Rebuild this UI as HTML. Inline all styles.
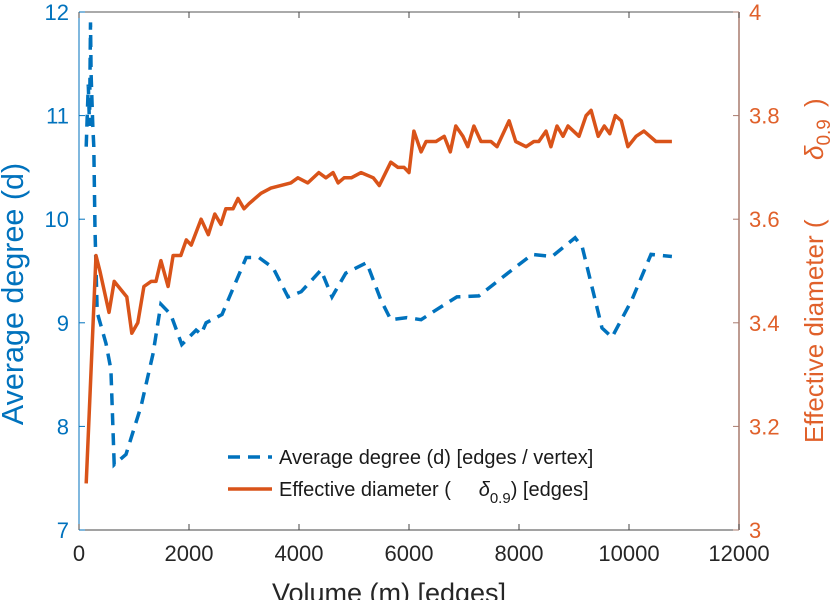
<!DOCTYPE html>
<html><head><meta charset="utf-8"><style>
html,body{margin:0;padding:0;background:#fff;}
svg{display:block;font-family:"Liberation Sans",sans-serif;}
</style></head><body>
<svg id="chart" width="838" height="600" xmlns="http://www.w3.org/2000/svg">
<g id="grid"></g>
<g id="marks"></g>
<g id="axes"></g>
</svg>
<script>
const xTicks = [0, 2000, 4000, 6000, 8000, 10000, 12000];
const leftTicks = [7, 8, 9, 10, 11, 12];
const rightTicks = [3, 3.2, 3.4, 3.6, 3.8, 4];
const rightTickLabels = ["3", "3.2", "3.4", "3.6", "3.8", "4"];
const degX = [130,170,190,210,220,250,270,290,330,490,580,640,855,1130,1345,1490,1670,1870,2130,2220,2310,2600,3040,3270,3530,3800,4040,4400,4600,4850,5230,5490,5670,5960,6220,6510,6870,7270,7870,8240,8600,9020,9150,9510,9690,10050,10400,10780];
const degY = [10.7,11.3,10.9,11.9,11.4,10.9,10.7,9.9,9.1,8.8,8.55,7.63,7.73,8.2,8.7,9.18,9.08,8.79,8.93,8.89,9.0,9.08,9.63,9.63,9.53,9.25,9.3,9.51,9.25,9.48,9.58,9.22,9.03,9.05,9.03,9.13,9.25,9.26,9.51,9.66,9.64,9.82,9.73,8.95,8.86,9.22,9.66,9.64];
const diaX = [130,310,380,545,640,870,960,1070,1180,1310,1400,1490,1620,1710,1850,1950,2040,2220,2350,2470,2580,2670,2800,2890,3000,3090,3310,3490,3850,3980,4160,4360,4490,4620,4710,4820,4950,5130,5350,5460,5670,5800,5910,6000,6090,6220,6310,6490,6640,6750,6850,6980,7070,7180,7310,7490,7600,7820,7940,8130,8270,8360,8490,8580,8690,8800,8890,9090,9220,9310,9440,9550,9650,9750,9860,9980,10130,10270,10490,10670,10780];
const diaY = [3.09,3.53,3.50,3.42,3.48,3.45,3.38,3.40,3.47,3.48,3.48,3.52,3.47,3.53,3.53,3.56,3.55,3.60,3.57,3.61,3.59,3.62,3.62,3.64,3.62,3.63,3.65,3.66,3.67,3.68,3.67,3.69,3.68,3.69,3.67,3.68,3.68,3.69,3.68,3.665,3.71,3.70,3.70,3.69,3.77,3.73,3.75,3.75,3.76,3.73,3.78,3.76,3.74,3.78,3.75,3.75,3.74,3.79,3.75,3.74,3.75,3.75,3.77,3.74,3.78,3.76,3.78,3.76,3.80,3.81,3.76,3.78,3.765,3.80,3.79,3.74,3.76,3.77,3.75,3.75,3.75];

const L=79, R=739, T=12, B=530;
const xs = v => L + (v/12000)*(R-L);
const yl = v => B - (v-7)/5*(B-T);
const yr = v => B - (v-3)/1*(B-T);
const NS="http://www.w3.org/2000/svg";
function mk(tag, attrs, parent, text){
  const e=document.createElementNS(NS,tag);
  for(const k in attrs) e.setAttribute(k,attrs[k]);
  if(text!==undefined) e.textContent=text;
  parent.appendChild(e); return e;
}
const svg=document.getElementById('chart');
const marks=document.getElementById('marks'), axes=document.getElementById('axes');
const BLUE="#0072BD", ORG="#D95319", ORGTXT="#E0602A";

let d1=degX.map((x,i)=>(i?'L':'M')+xs(x).toFixed(1)+','+yl(degY[i]).toFixed(1)).join('');
const p1=mk('path',{d:d1,fill:'none',stroke:BLUE,'stroke-width':3.5,'stroke-dasharray':'12,8'},marks);


let d2=diaX.map((x,i)=>(i?'L':'M')+xs(x).toFixed(1)+','+yr(diaY[i]).toFixed(1)).join('');
const p2=mk('path',{d:d2,fill:'none',stroke:ORG,'stroke-width':3.5,'stroke-linejoin':'round'},marks);



mk('line',{x1:L,y1:T,x2:R,y2:T,stroke:'#555','stroke-width':1},axes);
const xa=mk('line',{x1:L,y1:B,x2:R,y2:B,stroke:'#444','stroke-width':1},axes);


const la=mk('line',{x1:L,y1:T,x2:L,y2:B,stroke:BLUE,'stroke-width':1},axes);


const ra=mk('line',{x1:R,y1:T,x2:R,y2:B,stroke:'#A97B6E','stroke-width':1.5},axes);



xTicks.forEach(v=>{
  const x=xs(v);
  mk('line',{x1:x,y1:B,x2:x,y2:B-6,stroke:'#444'},axes);
  mk('line',{x1:x,y1:T,x2:x,y2:T+6,stroke:'#444'},axes);
  const t=mk('text',{x:x,y:B+31,'text-anchor':'middle','font-size':22,fill:'#262626'},axes,String(v));
  
  
});
leftTicks.forEach(v=>{
  const y=yl(v);
  mk('line',{x1:L,y1:y,x2:L+6,y2:y,stroke:BLUE},axes);
  const t=mk('text',{x:L-10,y:y+8,'text-anchor':'end','font-size':22,fill:BLUE},axes,String(v));
  
  
});
rightTicks.forEach((v,i)=>{
  const y=yr(v);
  mk('line',{x1:R,y1:y,x2:R-6,y2:y,stroke:'#A97B6E'},axes);
  const t=mk('text',{x:R+10,y:y+8,'font-size':22,fill:ORGTXT},axes,rightTickLabels[i]);
  
  
});

const xt=mk('text',{x:389,y:602,'text-anchor':'middle','font-size':27,fill:'#262626'},svg,'Volume (m) [edges]');


const ylt=mk('text',{x:0,y:0,'text-anchor':'middle','font-size':30.5,fill:BLUE,transform:'translate(23,294) rotate(-90)'},svg,'Average degree (d)');


const yrt=mk('text',{x:0,y:0,'font-size':26,fill:ORGTXT,transform:'translate(823,443) rotate(-90)'},svg,'');


yrt.innerHTML='Effective diameter (<tspan x="283" font-style="italic">δ</tspan><tspan font-size="19" dy="7">0.9</tspan><tspan x="336" dy="-7">)</tspan>';

const lg=mk('g',{},svg);


mk('line',{x1:228,y1:457,x2:272,y2:457,stroke:BLUE,'stroke-width':3.5,'stroke-dasharray':'12,8'},lg);
const l1=mk('text',{x:279,y:464,'font-size':20,fill:'#1a1a1a'},lg,'Average degree (d) [edges / vertex]');


mk('line',{x1:228,y1:489,x2:272,y2:489,stroke:ORG,'stroke-width':3.5},lg);
const l2=mk('text',{x:279,y:496,'font-size':20,fill:'#1a1a1a'},lg,'');
l2.innerHTML='Effective diameter (&#160;&#160;&#160;&#160;&#160;<tspan font-style="italic">δ</tspan><tspan font-size="15" dy="7">0.9</tspan><tspan dy="-7">) [edges]</tspan>';


</script>
</body></html>
